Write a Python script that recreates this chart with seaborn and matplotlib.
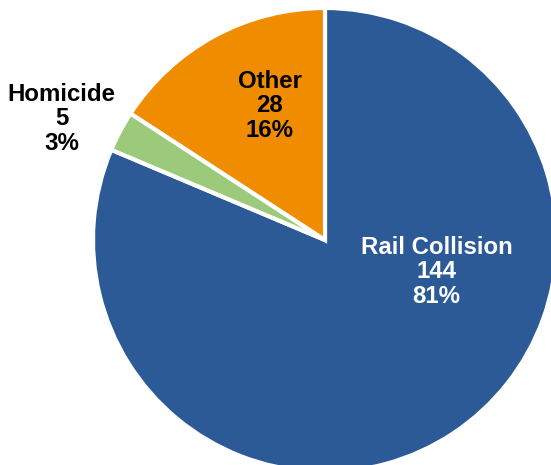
import numpy as np
import matplotlib
matplotlib.use("Agg")
import matplotlib.pyplot as plt
import seaborn as sns

categories = ["Rail Collision", "Homicide", "Other"]
counts = [144, 5, 28]
percents = ["81%", "3%", "16%"]
colors = ["#2B5A96", "#9BCB7A", "#F08C00"]


def main():
    sns.set_theme(style="white")
    plt.rcParams["font.family"] = ["Liberation Sans", "DejaVu Sans"]

    fig = plt.figure(figsize=(5.51, 4.65), dpi=100)
    r_px = 232
    cx, cy = 325, 465 - 240
    ax = fig.add_axes([(cx - r_px) / 551, (cy - r_px) / 465, 2 * r_px / 551, 2 * r_px / 465])

    wedges, _ = ax.pie(counts, colors=colors, startangle=90, counterclock=False,
                       wedgeprops=dict(edgecolor="white", linewidth=3))
    for w in wedges:
        w.set_clip_on(False)
    ax.set_xlim(-1, 1); ax.set_ylim(-1, 1)
    ax.set_aspect("equal")
    ax.axis("off")

    # label placement: (angle in degrees, radius fraction), text colour
    spots = [(-16, 0.50, "white"), (155.3, 1.25, "black"), (112.3, 0.625, "black")]
    for cat, n, p, (ang, rad, col) in zip(categories, counts, percents, spots):
        a = np.deg2rad(ang)
        ax.text(rad * np.cos(a), rad * np.sin(a), f"{cat}\n{n}\n{p}", ha="center", va="center",
                fontsize=17.3, fontweight="bold", color=col, linespacing=1.1, clip_on=False)

    fig.savefig("out.png", dpi=100)
    plt.close(fig)


if __name__ == "__main__":
    main()
